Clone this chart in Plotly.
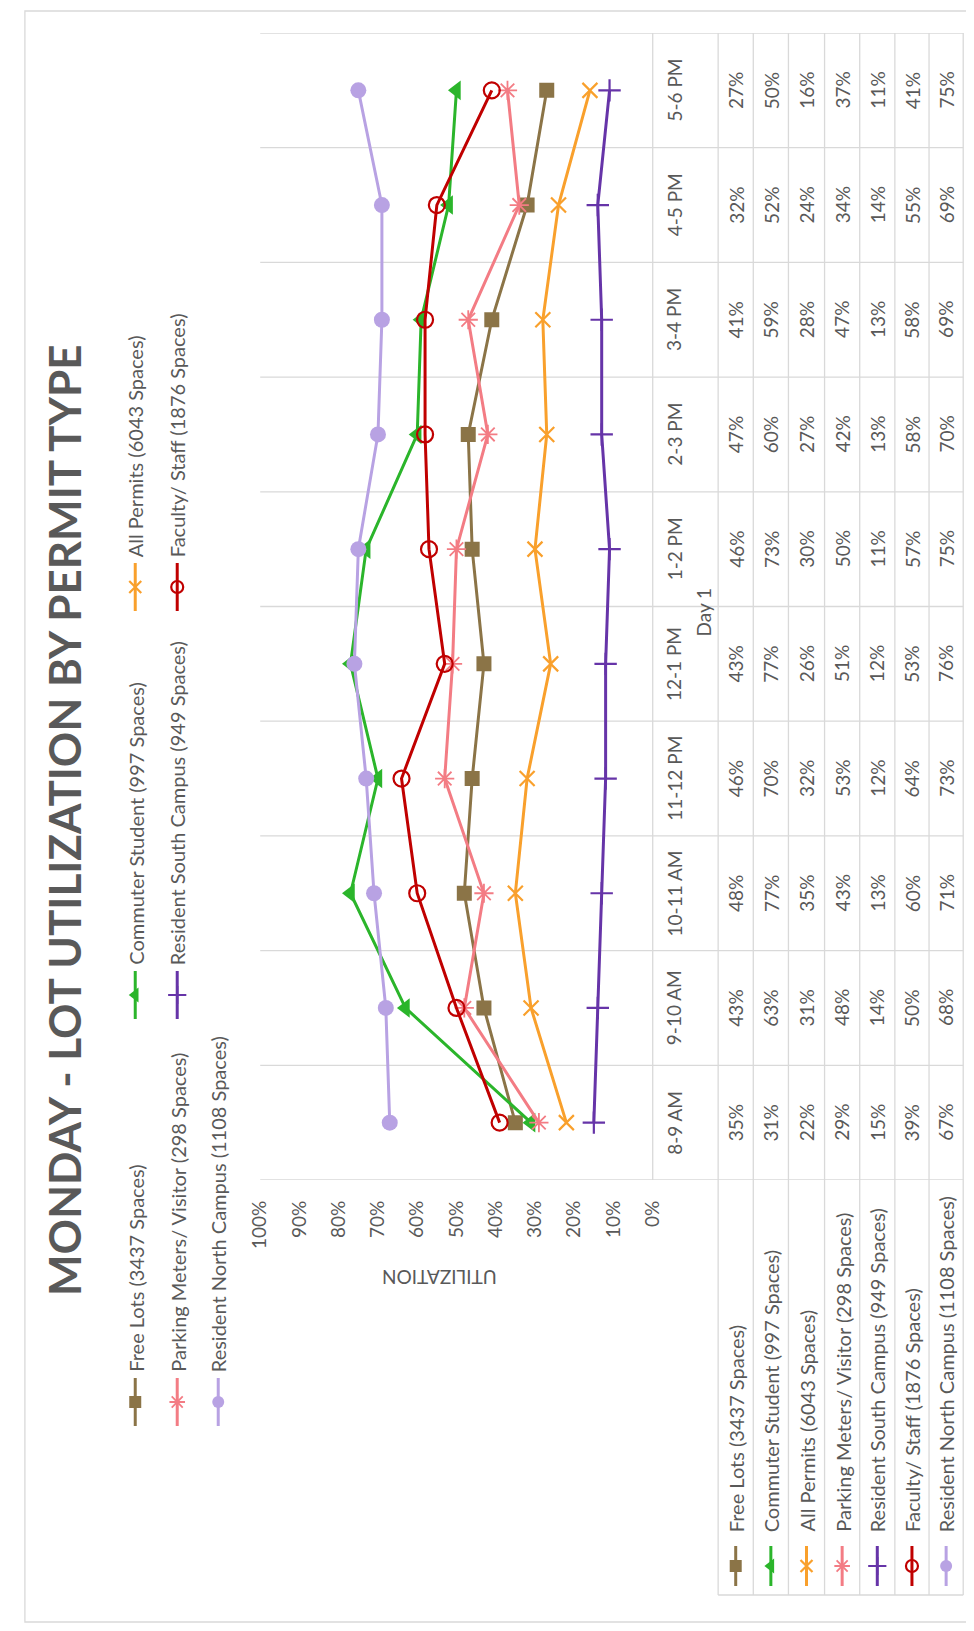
import plotly.graph_objects as go

# ---------------- data ----------------
times = ["8-9 AM", "9-10 AM", "10-11 AM", "11-12 PM", "12-1 PM",
         "1-2 PM", "2-3 PM", "3-4 PM", "4-5 PM", "5-6 PM"]
group_label = "Day 1"

series_names = [
    "Free Lots (3437 Spaces)",
    "Commuter Student (997 Spaces)",
    "All Permits (6043 Spaces)",
    "Parking Meters/ Visitor (298 Spaces)",
    "Resident South Campus (949 Spaces)",
    "Faculty/ Staff (1876 Spaces)",
    "Resident North Campus (1108 Spaces)",
]
free_lots = [35, 43, 48, 46, 43, 46, 47, 41, 32, 27]
commuter = [31, 63, 77, 70, 77, 73, 60, 59, 52, 50]
all_permits = [22, 31, 35, 32, 26, 30, 27, 28, 24, 16]
parking = [29, 48, 43, 53, 51, 50, 42, 47, 34, 37]
res_south = [15, 14, 13, 12, 12, 11, 13, 13, 14, 11]
faculty = [39, 50, 60, 64, 53, 57, 58, 58, 55, 41]
res_north = [67, 68, 71, 73, 76, 75, 70, 69, 69, 75]
series_values = [free_lots, commuter, all_permits, parking, res_south, faculty, res_north]

util_ticks = [0, 10, 20, 30, 40, 50, 60, 70, 80, 90, 100]
util_labels = [f"{v}%" for v in util_ticks]

title_text = "MONDAY - LOT UTILIZATION BY PERMIT TYPE"
axis_title = "UTILIZATION"

# ---------------- styles ----------------
styles = [
    dict(color="#8B7447", symbol="square", size=15, lw=0, ks=12),
    dict(color="#2BB52B", symbol="triangle-left", size=17, lw=0, ks=13),
    dict(color="#F9A02C", symbol="x-thin", size=15, lw=2.2, ks=12),
    dict(color="#F37C84", symbol="asterisk", size=16, lw=1.8, ks=13),
    dict(color="#6634A8", symbol="cross-thin", size=16, lw=2.2, ks=13),
    dict(color="#C00000", symbol="circle-open", size=16, lw=2.2, ks=12),
    dict(color="#B8A2E3", symbol="circle", size=16, lw=0, ks=12),
]

W, H = 974, 1631
OFF = 8          # the page body adds an 8px margin; compensate
FONT = "Lato"
TXT = "#595959"
GRID = "#D9D9D9"


def px(x):
    return (x - OFF) / W


def py(y):
    return 1 - (y - OFF) / H


# layout geometry (screen pixels)
PLOT_L, PLOT_R, PLOT_T, PLOT_B = 253, 655, 33, 1180
COL_EDGES = [722, 758, 794, 831, 867, 903, 938, 973]
COL_CENTERS = [(COL_EDGES[i] + COL_EDGES[i + 1]) / 2 for i in range(7)]
TABLE_BOTTOM = 1595
TIME_X = 677
GROUP_X = 707
LEGEND_POS = [(125, 1402), (125, 995), (125, 587),
              (168, 1402), (168, 995), (168, 587),
              (210, 1402)]
ROWKEY_Y = 1566

fig = go.Figure()

# main data series
for name, vals, st in zip(series_names, series_values, styles):
    fig.add_trace(go.Scatter(
        x=vals, y=times, mode="lines+markers", name=name,
        line=dict(color=st["color"], width=3),
        marker=dict(symbol=st["symbol"], size=st["size"], color=st["color"],
                    line=dict(color=st["color"], width=st["lw"])),
        xaxis="x", yaxis="y", showlegend=False, hoverinfo="skip",
    ))


def add_key(cx, cy, half, st):
    fig.add_trace(go.Scatter(
        x=[cx, cx], y=[cy - half, cy + half], mode="lines",
        line=dict(color=st["color"], width=3),
        xaxis="x2", yaxis="y2", showlegend=False, hoverinfo="skip"))
    fig.add_trace(go.Scatter(
        x=[cx], y=[cy], mode="markers",
        marker=dict(symbol=st["symbol"], size=st["ks"], color=st["color"],
                    line=dict(color=st["color"], width=st["lw"])),
        xaxis="x2", yaxis="y2", showlegend=False, hoverinfo="skip"))


annotations = []


def ann(text, x, y, size, angle=-90, xanchor="center", yanchor="middle",
        xref="paper", yref="paper", weight="normal", color=TXT):
    annotations.append(dict(
        text=text, x=x, y=y, xref=xref, yref=yref, showarrow=False,
        textangle=angle, xanchor=xanchor, yanchor=yanchor,
        font=dict(family=FONT, size=size, color=color, weight=weight)))


# title
ann(title_text, px(52), py(820), 44, weight="bold")

# legend (top, rotated)
for (cx, cy), name, st in zip(LEGEND_POS, series_names, styles):
    add_key(cx, cy, 24, st)
    ann(name, px(cx), py(cy - 28), 20, yanchor="bottom")

# axis title (upside down, as in rotated chart)
ann(axis_title, px(436), py(1278), 19, angle=180)

# time labels + group label
for t in times:
    ann(t, px(TIME_X), t, 19, yref="y")
ann(group_label, px(GROUP_X), py(612), 19)

# data table values
for ci, vals in enumerate(series_values):
    for t, v in zip(times, vals):
        ann(f"{v}%", px(COL_CENTERS[ci]), t, 19, yref="y")

# table row headers
for ci, (name, st) in enumerate(zip(series_names, styles)):
    add_key(COL_CENTERS[ci], ROWKEY_Y, 20, st)
    ann(name, px(COL_CENTERS[ci]), py(ROWKEY_Y - 32), 20, yanchor="bottom")

shapes = []
# outer chart border
shapes.append(dict(type="rect", xref="paper", yref="paper",
                   x0=px(12), x1=px(990), y0=py(1622), y1=py(11),
                   line=dict(color=GRID, width=1.3), layer="below"))
# category separators spanning plot and table
for k in range(len(times) + 1):
    shapes.append(dict(type="line", xref="paper", yref="y",
                       x0=px(PLOT_L), x1=px(COL_EDGES[-1]), y0=k - 0.5, y1=k - 0.5,
                       line=dict(color=GRID, width=1.3), layer="below"))
# axis line / table left border
shapes.append(dict(type="line", xref="paper", yref="paper",
                   x0=px(PLOT_R), x1=px(PLOT_R), y0=py(PLOT_B), y1=py(PLOT_T),
                   line=dict(color=GRID, width=1.3), layer="below"))
# table column borders
for xe in COL_EDGES:
    shapes.append(dict(type="line", xref="paper", yref="paper",
                       x0=px(xe), x1=px(xe), y0=py(TABLE_BOTTOM), y1=py(PLOT_T),
                       line=dict(color=GRID, width=1.3), layer="below"))
shapes.append(dict(type="line", xref="paper", yref="paper",
                   x0=px(COL_EDGES[0]), x1=px(COL_EDGES[-1]),
                   y0=py(TABLE_BOTTOM), y1=py(TABLE_BOTTOM),
                   line=dict(color=GRID, width=1.3), layer="below"))

fig.update_layout(
    width=W, height=H,
    margin=dict(l=0, r=0, t=0, b=0, pad=0),
    paper_bgcolor="white", plot_bgcolor="rgba(0,0,0,0)",
    showlegend=False, hovermode=False,
    font=dict(family=FONT, color=TXT),
    xaxis=dict(domain=[px(PLOT_L), px(PLOT_R)], range=[100, 0],
               tickvals=util_ticks, ticktext=util_labels, tickangle=-90,
               tickfont=dict(family=FONT, size=19, color=TXT),
               showgrid=False, zeroline=False, showline=False, ticks="",
               ticklabelstandoff=16, anchor="y", fixedrange=True),
    yaxis=dict(domain=[py(PLOT_B), py(PLOT_T)], type="category",
               categoryorder="array", categoryarray=times,
               range=[-0.5, len(times) - 0.5], showticklabels=False,
               showgrid=False, zeroline=False, showline=False, anchor="x",
               fixedrange=True),
    xaxis2=dict(domain=[0, 1], range=[OFF, W + OFF], visible=False, anchor="y2",
                fixedrange=True),
    yaxis2=dict(domain=[0, 1], range=[H + OFF, OFF], visible=False, anchor="x2",
                fixedrange=True),
    annotations=annotations,
    shapes=shapes,
)

fig.write_html("out.html")
